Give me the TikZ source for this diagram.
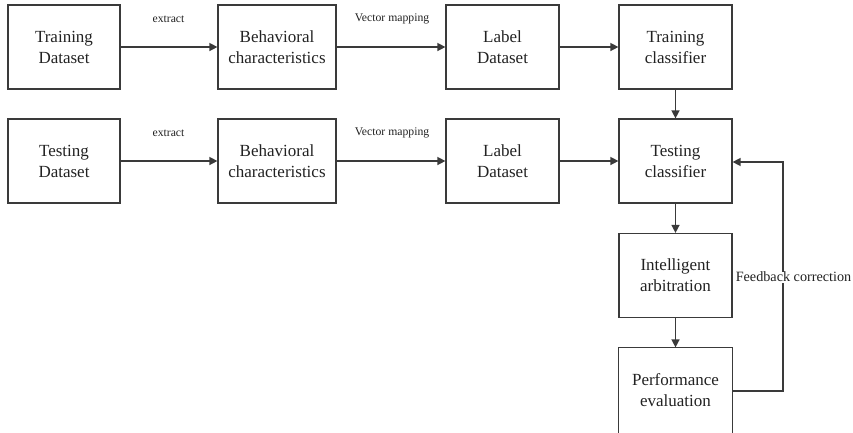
\documentclass[tikz,border=0pt]{standalone}
\usepackage{fontspec}
\setmainfont{Liberation Serif}
\usetikzlibrary{arrows.meta}
\definecolor{ln}{HTML}{3A3A3A}
\definecolor{tx}{HTML}{222222}
\begin{document}
\begin{tikzpicture}[x=1pt,y=-1pt,
  box/.style={draw=ln,line width=1.2pt,minimum width=113pt,minimum height=84pt,inner sep=0pt,
    align=center,text=tx,font=\fontsize{17}{21}\selectfont},
  arr/.style={draw=ln,line width=1.4pt,-{Triangle[length=8pt,width=8pt]}},
  lab/.style={text=tx,font=\fontsize{11.7}{14}\selectfont,inner sep=0pt}]
\useasboundingbox (0,0) rectangle (853,432);
\begin{scope}
\clip (0,0) rectangle (853,432);
\node[box,minimum width=112pt] (td) at (64,47) {Training\\Dataset};
\node[box,minimum width=118pt] (bc1) at (277,47) {Behavioral\\characteristics};
\node[box] (ld1) at (502.5,47) {Label\\Dataset};
\node[box] (tc) at (675.5,47) {Training\\classifier};
\node[box,minimum width=112pt] (sd) at (64,161) {Testing\\Dataset};
\node[box,minimum width=118pt] (bc2) at (277,161) {Behavioral\\characteristics};
\node[box] (ld2) at (502.5,161) {Label\\Dataset};
\node[box] (sc) at (675.5,161) {Testing\\classifier};
\node[box] (ia) at (675.5,275.5) {Intelligent\\arbitration};
\node[box,draw=none] (pe) at (675.5,390) {Performance\\evaluation};
\draw[ln,line width=1.2pt] ([yshift=-6pt]pe.south west) -- (pe.north west) -- (pe.north east) -- ([yshift=-6pt]pe.south east);
\draw[arr] (td) -- (bc1);
\draw[arr] (bc1) -- (ld1);
\draw[arr] (ld1) -- (tc);
\draw[arr] (sd) -- (bc2);
\draw[arr] (bc2) -- (ld2);
\draw[arr] (ld2) -- (sc);
\draw[arr] (tc) -- (sc);
\draw[arr] (sc) -- (ia);
\draw[arr] (ia) -- (pe);
\coordinate (fb1) at (783,391);
\coordinate (fb2) at (783,162);
\draw[arr] (pe.east |- fb1) -- (fb1) -- (fb2) -- (sc.east |- fb2);
\node[lab] (l1) at (168.5,19) {extract};
\node[lab] (l2) at (392,19) {Vector mapping};
\node[lab] (l3) at (168.5,133) {extract};
\node[lab] (l4) at (392,133) {Vector mapping};
\node[text=tx,fill=white,inner sep=0.5pt,font=\fontsize{14.2}{17}\selectfont] (fc) at (793.5,277) {Feedback correction};
\end{scope}
\end{tikzpicture}
\end{document}
